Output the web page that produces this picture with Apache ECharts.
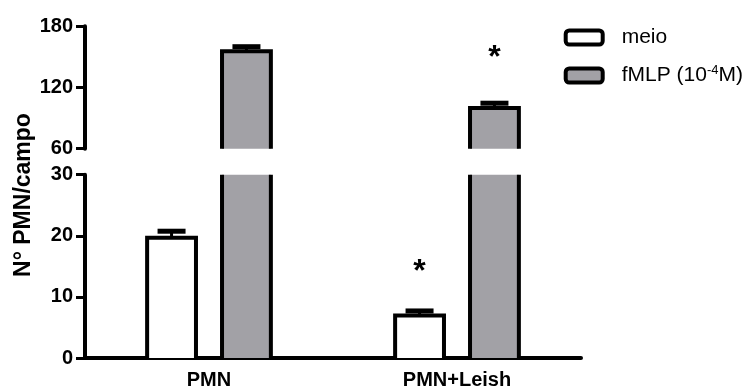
<!DOCTYPE html>
<html><head><meta charset="utf-8">
<script src="https://cdn.jsdelivr.net/npm/echarts@6/dist/echarts.min.js"></script>
<style>html,body{margin:0;padding:0;background:#fff}#c{width:743px;height:390px}</style>
</head><body><div id="c"></div>
<script>
const categories = ['PMN', 'PMN+Leish'];
const meioMean = [19.7, 6.95];
const meioSem = [1.05, 0.75];
const fmlpMean = [155.5, 99.8];
const fmlpSem = [4.5, 4.8];
const meioStar = [null, 14];
const fmlpStar = [null, 148.6];
const lowerRange = [0, 30, 10];
const upperRange = [60, 180, 60];

const FONT = '"Liberation Sans", Arial, sans-serif';
const fills = { meio: '#ffffff', fMLP: '#a2a1a6' };
const offsets = { meio: -0.151, fMLP: 0.151 };
const BAR_W = 0.197;

function makeRender(name, lo, hi) {
  return function (params, api) {
    const cat = api.value(0), mean = api.value(1), sem = api.value(2), star = api.value(3);
    const band = api.size([1, 0])[0];
    const cx = api.coord([cat, lo])[0] + offsets[name] * band;
    const w = BAR_W * band;
    const x0 = cx - w / 2, x1 = cx + w / 2;
    const yBase = api.coord([cat, lo])[1];
    const children = [];
    if (mean > lo) {
      const top = Math.min(mean, hi);
      const yTop = api.coord([cat, top])[1];
      children.push({ type: 'rect', shape: { x: x0, y: yTop, width: w, height: yBase - yTop }, style: { fill: fills[name] } });
      if (mean <= hi) {
        children.push({ type: 'polyline', shape: { points: [[x0, yBase], [x0, yTop], [x1, yTop], [x1, yBase]] }, style: { stroke: '#000', lineWidth: 4, fill: 'none', lineJoin: 'miter' } });
        const e = mean + sem;
        if (e <= hi) {
          const ye = api.coord([cat, e])[1];
          children.push({ type: 'line', shape: { x1: cx, y1: yTop, x2: cx, y2: ye }, style: { stroke: '#000', lineWidth: 3 } });
          children.push({ type: 'line', shape: { x1: cx - 14, y1: ye, x2: cx + 14, y2: ye }, style: { stroke: '#000', lineWidth: 5 } });
        }
      } else {
        children.push({ type: 'line', shape: { x1: x0, y1: yTop, x2: x0, y2: yBase }, style: { stroke: '#000', lineWidth: 4 } });
        children.push({ type: 'line', shape: { x1: x1, y1: yTop, x2: x1, y2: yBase }, style: { stroke: '#000', lineWidth: 4 } });
      }
    }
    if (!isNaN(star) && star >= lo && star <= hi) {
      const p = api.coord([cat, star]);
      children.push({ type: 'text', x: cx, y: p[1], style: { text: '*', font: 'bold 32px ' + FONT, fill: '#000', align: 'center', verticalAlign: 'middle' } });
    }
    return { type: 'group', children };
  };
}

function mkData(means, sems, stars) {
  return means.map((m, i) => [i, m, sems[i], stars[i] == null ? NaN : stars[i]]);
}
const meioData = mkData(meioMean, meioSem, meioStar);
const fmlpData = mkData(fmlpMean, fmlpSem, fmlpStar);

const axisLabelStyle = { color: '#000', fontFamily: FONT, fontSize: 20, fontWeight: 'bold' };
const lineStyle = { color: '#000', width: 4 };

const chart = echarts.init(document.getElementById('c'), null, { renderer: 'canvas' });
chart.setOption({
  animation: false,
  backgroundColor: '#fff',
  grid: [
    { left: 85, top: 174.7, height: 183.6, width: 496 },
    { left: 85, top: 26.3, height: 122.4, width: 496 }
  ],
  xAxis: [
    { type: 'category', gridIndex: 0, data: categories,
      axisLine: { lineStyle }, axisTick: { show: false },
      axisLabel: Object.assign({ margin: 12 }, axisLabelStyle) },
    { type: 'category', gridIndex: 1, data: categories, show: false }
  ],
  yAxis: [
    { type: 'value', gridIndex: 0, min: lowerRange[0], max: lowerRange[1], interval: lowerRange[2],
      splitLine: { show: false }, axisLine: { show: true, lineStyle },
      axisTick: { show: true, length: 9, lineStyle: { color: '#000', width: 3 } },
      axisLabel: Object.assign({ margin: 12 }, axisLabelStyle) },
    { type: 'value', gridIndex: 1, min: upperRange[0], max: upperRange[1], interval: upperRange[2],
      splitLine: { show: false }, axisLine: { show: true, lineStyle },
      axisTick: { show: true, length: 9, lineStyle: { color: '#000', width: 3 } },
      axisLabel: Object.assign({ margin: 12 }, axisLabelStyle) }
  ],
  legend: {
    orient: 'vertical', left: 558.7, top: 20.5, itemWidth: 37, itemHeight: 14, itemGap: 14,
    selectedMode: false,
    data: [
      { name: 'meio', icon: 'roundRect', itemStyle: { color: fills.meio, borderColor: '#000', borderWidth: 4 } },
      { name: 'fMLP', icon: 'roundRect', itemStyle: { color: fills.fMLP, borderColor: '#000', borderWidth: 4 } }
    ],
    formatter: n => n === 'fMLP' ? 'fMLP (10{sup|-4}M)' : n,
    textStyle: {
      color: '#000', fontFamily: FONT, fontSize: 21, lineHeight: 24, padding: [0, 0, 0, 14],
      rich: { sup: { fontFamily: FONT, fontSize: 13, color: '#000', verticalAlign: 'top', lineHeight: 14 } }
    }
  },
  graphic: [
    { type: 'text', x: 24, y: 195, rotation: Math.PI / 2,
      style: { text: 'N° PMN/campo', font: 'bold 23px ' + FONT, fill: '#000', align: 'center', verticalAlign: 'middle' } }
  ],
  series: [
    { type: 'custom', name: 'meio', xAxisIndex: 0, yAxisIndex: 0, renderItem: makeRender('meio', lowerRange[0], lowerRange[1]), data: meioData, encode: { x: 0, y: 1 }, itemStyle: { color: fills.meio } },
    { type: 'custom', name: 'fMLP', xAxisIndex: 0, yAxisIndex: 0, renderItem: makeRender('fMLP', lowerRange[0], lowerRange[1]), data: fmlpData, encode: { x: 0, y: 1 }, itemStyle: { color: fills.fMLP } },
    { type: 'custom', name: 'meio', xAxisIndex: 1, yAxisIndex: 1, renderItem: makeRender('meio', upperRange[0], upperRange[1]), data: meioData, encode: { x: 0, y: 1 }, itemStyle: { color: fills.meio } },
    { type: 'custom', name: 'fMLP', xAxisIndex: 1, yAxisIndex: 1, renderItem: makeRender('fMLP', upperRange[0], upperRange[1]), data: fmlpData, encode: { x: 0, y: 1 }, itemStyle: { color: fills.fMLP } }
  ]
});
</script></body></html>
